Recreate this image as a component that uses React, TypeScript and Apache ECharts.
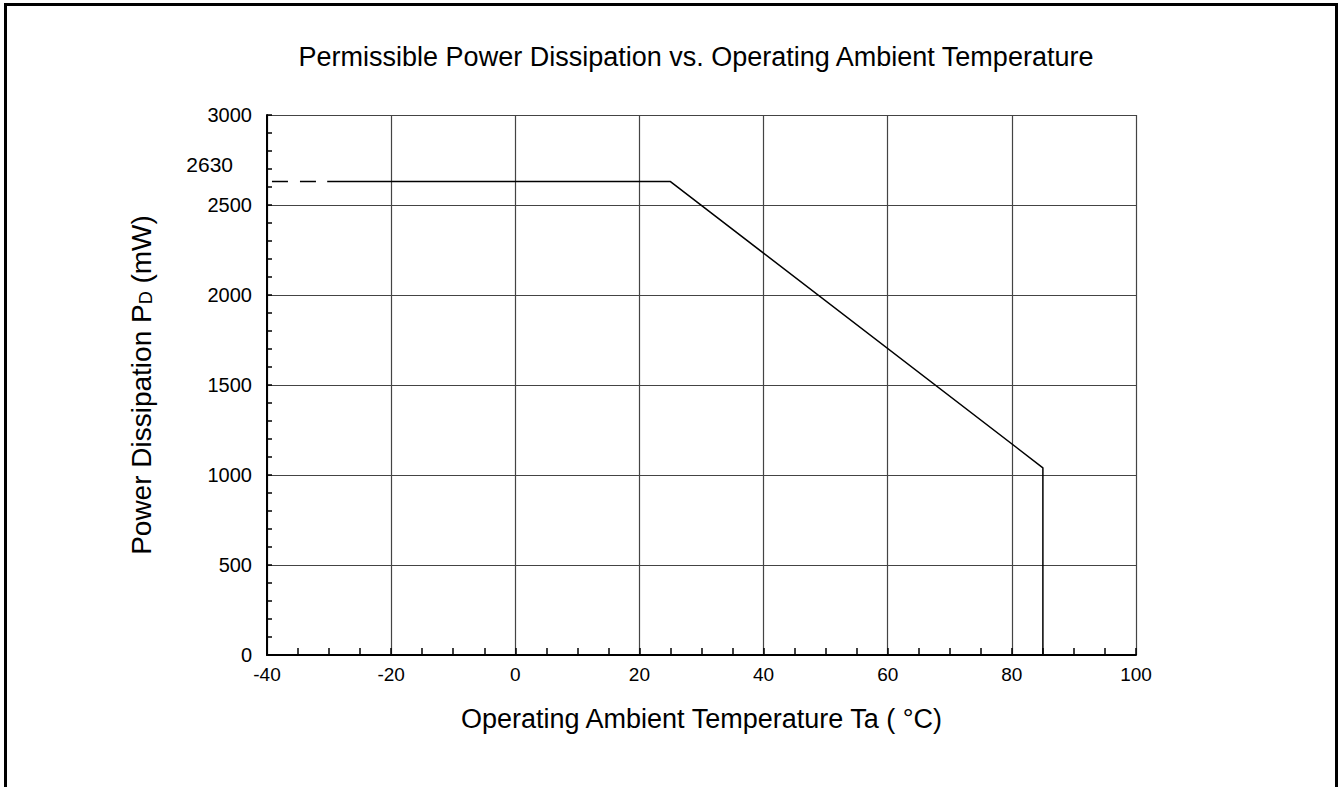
import React, { useEffect, useRef } from "react";
import * as echarts from "echarts";

const titleText = "Permissible Power Dissipation vs. Operating Ambient Temperature";
const xName = "Operating Ambient Temperature Ta ( \u00B0C)";
const xMin = -40;
const xMax = 100;
const xInterval = 20;
const yMin = 0;
const yMax = 3000;
const yInterval = 500;

// dashed extension (lower temperature, not guaranteed)
const dashedTemps = [-39.2, -30.3];
const dashedPower = [2630, 2630];
// derating curve
const curveTemps = [-30.3, 25, 85, 85];
const curvePower = [2630, 2630, 1040, 0];
const ratedLabel = "2630";

const FONT = "'Liberation Sans', Arial, Helvetica, sans-serif";

export default function App() {
  const ref = useRef<HTMLDivElement>(null);
  useEffect(() => {
    if (!ref.current) return;
    const chart = echarts.init(ref.current, null, { renderer: "svg" });
    const dashedData = dashedTemps.map((t, i) => [t, dashedPower[i]]);
    const curveData = curveTemps.map((t, i) => [t, curvePower[i]]);
    chart.setOption({
      animation: false,
      backgroundColor: "#ffffff",
      textStyle: { fontFamily: FONT },
      title: {
        text: titleText,
        left: 691,
        textAlign: "center",
        top: 38,
        textStyle: { fontFamily: FONT, fontSize: 27, fontWeight: "normal", color: "#000" },
      },
      graphic: [
        {
          type: "rect",
          shape: { x: 5.5, y: 4.5, width: 1331, height: 820 },
          style: { fill: "none", stroke: "#000", lineWidth: 3 },
          silent: true,
        },
      ],
      grid: { left: 267, right: 202, top: 115, bottom: 132, containLabel: false },
      xAxis: {
        type: "value",
        min: xMin,
        max: xMax,
        interval: xInterval,
        name: xName,
        nameLocation: "middle",
        nameGap: 50,
        nameTextStyle: { fontFamily: FONT, fontSize: 27, color: "#000" },
        axisLine: { show: true, onZero: false, lineStyle: { color: "#000", width: 2 } },
        axisTick: { show: true, inside: true, length: 7, lineStyle: { color: "#000", width: 1.5 } },
        minorTick: { show: true, splitNumber: 4, length: 7, lineStyle: { color: "#000", width: 1.5 } },
        splitLine: { show: true, lineStyle: { color: "#444", width: 1.2 } },
        axisLabel: { fontFamily: FONT, fontSize: 19, color: "#000", margin: 10, formatter: (v: number) => String(v) },
      },
      yAxis: {
        type: "value",
        min: yMin,
        max: yMax,
        interval: yInterval,
        name: "{a|Power Dissipation P}{s|D}{a| (mW)}",
        nameLocation: "middle",
        nameRotate: 90,
        nameGap: 112,
        nameTextStyle: {
          fontFamily: FONT,
          fontSize: 28,
          color: "#000",
          rich: {
            a: { fontFamily: FONT, fontSize: 28, color: "#000", verticalAlign: "bottom", lineHeight: 33 },
            s: { fontFamily: FONT, fontSize: 18, color: "#000", verticalAlign: "bottom", lineHeight: 28 },
          },
        },
        axisLine: { show: true, onZero: false, lineStyle: { color: "#000", width: 2 } },
        axisTick: { show: true, inside: true, length: 5, lineStyle: { color: "#000", width: 1.5 } },
        minorTick: { show: true, splitNumber: 5, length: 5, lineStyle: { color: "#000", width: 1.5 } },
        splitLine: { show: true, lineStyle: { color: "#444", width: 1.2 } },
        axisLabel: { fontFamily: FONT, fontSize: 20, color: "#000", margin: 15, formatter: (v: number) => String(v) },
      },
      series: [
        {
          type: "line",
          data: dashedData,
          symbol: "none",
          lineStyle: { color: "#000", width: 1.5, type: [16, 12] },
          markPoint: {
            symbol: "circle",
            symbolSize: 0,
            data: [{ coord: [xMin, dashedPower[0]] }],
            label: {
              show: true,
              formatter: ratedLabel,
              position: "left",
              distance: 34,
              offset: [0, -17],
              fontFamily: FONT,
              fontSize: 21,
              color: "#000",
            },
          },
        },
        {
          type: "line",
          data: curveData,
          symbol: "none",
          lineStyle: { color: "#000", width: 1.5 },
        },
      ],
    });
    return () => chart.dispose();
  }, []);
  return (
    <div
      ref={ref}
      style={{ position: "fixed", left: 0, top: 0, width: 1338, height: 787, background: "#fff" }}
    />
  );
}
